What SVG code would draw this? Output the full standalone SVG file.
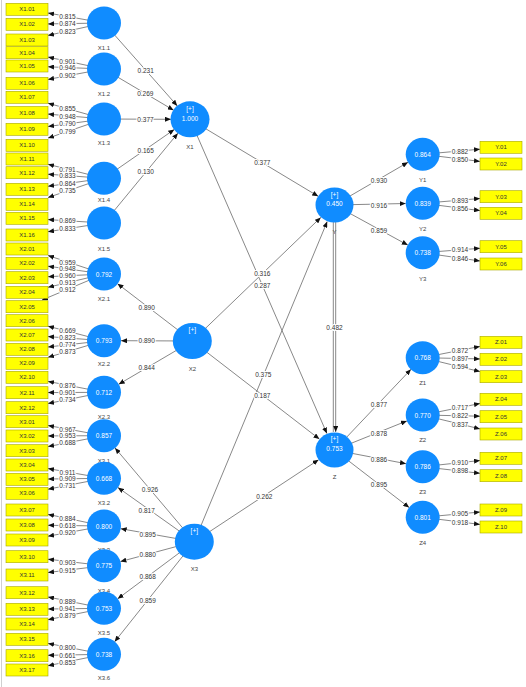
<svg xmlns="http://www.w3.org/2000/svg" width="526" height="687" viewBox="0 0 526 687">
<defs>
<marker id="a" markerUnits="userSpaceOnUse" markerWidth="6" markerHeight="5" refX="6" refY="2.5" orient="auto"><path d="M0,0 L6,2.5 L0,5 z" fill="#111"/></marker>
<style>
.c{fill:#108cff}
.b{fill:#ffff00;stroke:#a8a800;stroke-width:0.6}
.l{stroke:#7a7a7a;stroke-width:0.9;fill:none;marker-end:url(#a)}
.p{stroke:#7a7a7a;stroke-width:0.9;fill:none}
text{font-family:"Liberation Sans",Arial,sans-serif;text-anchor:middle;dominant-baseline:central}
.t{font-size:6.5px;fill:#333;stroke:#fff;stroke-width:2.2px;paint-order:stroke}
.n{font-size:6px;fill:#444}
.v{font-size:6.5px;fill:#fff}
.bt{font-size:6px;fill:#333}
</style>
</defs>
<rect width="526" height="687" fill="#fff"/>
<line x1="1.5" y1="0" x2="1.5" y2="687" stroke="#d0d0d0" stroke-width="1"/>

<g id="connectors">
<!-- left loadings -->
<line class="l" x1="104" y1="23" x2="48" y2="13"/>
<line class="l" x1="104" y1="23" x2="48" y2="23.9"/>
<line class="l" x1="104" y1="23" x2="48" y2="35.4"/>
<line class="l" x1="104" y1="69" x2="48" y2="57.1"/>
<line class="l" x1="104" y1="69" x2="48" y2="66.8"/>
<line class="l" x1="104" y1="69" x2="48" y2="79.4"/>
<line class="l" x1="104" y1="119" x2="48" y2="103.2"/>
<line class="l" x1="104" y1="119" x2="48" y2="114.1"/>
<line class="l" x1="104" y1="119" x2="48" y2="126.5"/>
<line class="l" x1="104" y1="119" x2="48" y2="138.1"/>
<line class="l" x1="104" y1="178.3" x2="48" y2="164.3"/>
<line class="l" x1="104" y1="178.3" x2="48" y2="174.2"/>
<line class="l" x1="104" y1="178.3" x2="48" y2="186.3"/>
<line class="l" x1="104" y1="178.3" x2="48" y2="197.5"/>
<line class="l" x1="104" y1="223" x2="48" y2="219.6"/>
<line class="l" x1="104" y1="223" x2="48" y2="231.7"/>
<line class="l" x1="104" y1="274" x2="48" y2="255.5"/>
<line class="l" x1="104" y1="274" x2="48" y2="266.2"/>
<line class="l" x1="104" y1="274" x2="48" y2="276.7"/>
<line class="l" x1="104" y1="274" x2="48" y2="287.3"/>
<line class="l" x1="104" y1="274" x2="42" y2="300"/>
<line class="l" x1="104" y1="340.7" x2="48" y2="326.2"/>
<line class="l" x1="104" y1="340.7" x2="48" y2="336.6"/>
<line class="l" x1="104" y1="340.7" x2="48" y2="347"/>
<line class="l" x1="104" y1="340.7" x2="48" y2="357.3"/>
<line class="l" x1="104" y1="392.3" x2="48" y2="381.4"/>
<line class="l" x1="104" y1="392.3" x2="48" y2="392.6"/>
<line class="l" x1="104" y1="392.3" x2="48" y2="403.5"/>
<line class="l" x1="104" y1="435.7" x2="48" y2="425.5"/>
<line class="l" x1="104" y1="435.7" x2="48" y2="435.9"/>
<line class="l" x1="104" y1="435.7" x2="48" y2="446.6"/>
<line class="l" x1="104" y1="478.3" x2="48" y2="468.6"/>
<line class="l" x1="104" y1="478.3" x2="48" y2="479"/>
<line class="l" x1="104" y1="478.3" x2="48" y2="489.2"/>
<line class="l" x1="104" y1="526" x2="48" y2="514.4"/>
<line class="l" x1="104" y1="526" x2="48" y2="525.3"/>
<line class="l" x1="104" y1="526" x2="48" y2="536.2"/>
<line class="l" x1="104" y1="565.7" x2="48" y2="559.2"/>
<line class="l" x1="104" y1="565.7" x2="48" y2="572.5"/>
<line class="l" x1="104" y1="608.3" x2="48" y2="597"/>
<line class="l" x1="104" y1="608.3" x2="48" y2="609"/>
<line class="l" x1="104" y1="608.3" x2="48" y2="619.7"/>
<line class="l" x1="104" y1="654.3" x2="48" y2="643.4"/>
<line class="l" x1="104" y1="654.3" x2="48" y2="655.3"/>
<line class="l" x1="104" y1="654.3" x2="48" y2="665.7"/>
<!-- right loadings -->
<line class="l" x1="422.7" y1="154.3" x2="480" y2="149.2"/>
<line class="l" x1="422.7" y1="154.3" x2="480" y2="161.4"/>
<line class="l" x1="422.7" y1="203.3" x2="480" y2="198.5"/>
<line class="l" x1="422.7" y1="203.3" x2="480" y2="210.6"/>
<line class="l" x1="422.7" y1="252.7" x2="480" y2="248.3"/>
<line class="l" x1="422.7" y1="252.7" x2="480" y2="261"/>
<line class="l" x1="422.7" y1="357.7" x2="480" y2="346.4"/>
<line class="l" x1="422.7" y1="357.7" x2="480" y2="358.9"/>
<line class="l" x1="422.7" y1="357.7" x2="480" y2="371.6"/>
<line class="l" x1="422.7" y1="415" x2="480" y2="403.5"/>
<line class="l" x1="422.7" y1="415" x2="480" y2="416.2"/>
<line class="l" x1="422.7" y1="415" x2="480" y2="428.9"/>
<line class="l" x1="422.7" y1="466.7" x2="480" y2="460.5"/>
<line class="l" x1="422.7" y1="466.7" x2="480" y2="473.3"/>
<line class="l" x1="422.7" y1="517.3" x2="480" y2="512"/>
<line class="l" x1="422.7" y1="517.3" x2="480" y2="524.4"/>
<!-- first-order to X1 -->
<line class="l" x1="104" y1="23" x2="177.3" y2="105.9"/>
<line class="l" x1="104" y1="69" x2="173.6" y2="110.2"/>
<line class="l" x1="104" y1="119" x2="171" y2="119.3"/>
<line class="l" x1="104" y1="178.3" x2="174.3" y2="129.5"/>
<line class="l" x1="104" y1="223" x2="177.9" y2="133.2"/>
<!-- X2 to first-order -->
<line class="l" x1="192.3" y1="341" x2="117.5" y2="283.7"/>
<line class="l" x1="192.3" y1="341" x2="121" y2="340.7"/>
<line class="l" x1="192.3" y1="341" x2="118.7" y2="384.3"/>
<!-- X3 to first-order -->
<line class="l" x1="194.3" y1="541.7" x2="115" y2="447.9"/>
<line class="l" x1="194.3" y1="541.7" x2="117.9" y2="487.5"/>
<line class="l" x1="194.3" y1="541.7" x2="120.7" y2="528.7"/>
<line class="l" x1="194.3" y1="541.7" x2="120.4" y2="561.6"/>
<line class="l" x1="194.3" y1="541.7" x2="117.7" y2="598.8"/>
<line class="l" x1="194.3" y1="541.7" x2="114.6" y2="641.8"/>
<!-- structural -->
<line class="l" x1="190" y1="119.3" x2="318.2" y2="196.3"/>
<line class="l" x1="190" y1="119.3" x2="326.9" y2="433.5"/>
<line class="l" x1="192.3" y1="341" x2="320.8" y2="217.4"/>
<line class="l" x1="192.3" y1="341" x2="319.4" y2="439.1"/>
<line class="l" x1="194.3" y1="541.7" x2="327.2" y2="221.6"/>
<line class="l" x1="194.3" y1="541.7" x2="318.6" y2="459.8"/>
<line class="p" x1="333.3" y1="205" x2="333.3" y2="432"/>
<line class="l" x1="335.7" y1="205" x2="335.7" y2="432"/>
<!-- Y and Z to first-order -->
<line class="l" x1="334.5" y1="205" x2="408" y2="162.3"/>
<line class="l" x1="334.5" y1="205" x2="405.7" y2="203.5"/>
<line class="l" x1="334.5" y1="205" x2="407.8" y2="245.1"/>
<line class="l" x1="334.5" y1="450" x2="411" y2="369.3"/>
<line class="l" x1="334.5" y1="450" x2="406.9" y2="420.9"/>
<line class="l" x1="334.5" y1="450" x2="406" y2="463.7"/>
<line class="l" x1="334.5" y1="450" x2="409.2" y2="507.6"/>
</g>

<g id="connector-labels">
<text class="t" x="67.5" y="16.5">0.815</text>
<text class="t" x="67.5" y="23.8">0.874</text>
<text class="t" x="67.5" y="31.1">0.823</text>
<text class="t" x="67.5" y="61.3">0.901</text>
<text class="t" x="67.5" y="67.9">0.946</text>
<text class="t" x="67.5" y="75.8">0.902</text>
<text class="t" x="67.5" y="108.7">0.855</text>
<text class="t" x="67.5" y="116.3">0.948</text>
<text class="t" x="67.5" y="123.9">0.790</text>
<text class="t" x="67.5" y="131.5">0.799</text>
<text class="t" x="67.5" y="169.2">0.791</text>
<text class="t" x="67.5" y="175.8">0.833</text>
<text class="t" x="67.5" y="183.2">0.864</text>
<text class="t" x="67.5" y="190.4">0.735</text>
<text class="t" x="67.5" y="220.3">0.869</text>
<text class="t" x="67.5" y="228.4">0.833</text>
<text class="t" x="67.5" y="262.2">0.959</text>
<text class="t" x="67.5" y="268.9">0.948</text>
<text class="t" x="67.5" y="275.8">0.960</text>
<text class="t" x="67.5" y="282.7">0.913</text>
<text class="t" x="67.5" y="289.6">0.912</text>
<text class="t" x="67.5" y="330.8">0.669</text>
<text class="t" x="67.5" y="337.8">0.823</text>
<text class="t" x="67.5" y="344.8">0.774</text>
<text class="t" x="67.5" y="351.6">0.873</text>
<text class="t" x="67.5" y="385">0.876</text>
<text class="t" x="67.5" y="392.5">0.901</text>
<text class="t" x="67.5" y="399.8">0.734</text>
<text class="t" x="67.5" y="429.1">0.967</text>
<text class="t" x="67.5" y="435.9">0.953</text>
<text class="t" x="67.5" y="442.8">0.688</text>
<text class="t" x="67.5" y="472">0.911</text>
<text class="t" x="67.5" y="478.7">0.909</text>
<text class="t" x="67.5" y="485.5">0.731</text>
<text class="t" x="67.5" y="518.6">0.884</text>
<text class="t" x="67.5" y="525.6">0.618</text>
<text class="t" x="67.5" y="532.8">0.920</text>
<text class="t" x="67.5" y="562">0.903</text>
<text class="t" x="67.5" y="570">0.915</text>
<text class="t" x="67.5" y="601.2">0.889</text>
<text class="t" x="67.5" y="608.8">0.941</text>
<text class="t" x="67.5" y="615.8">0.879</text>
<text class="t" x="67.5" y="647.4">0.800</text>
<text class="t" x="67.5" y="655">0.661</text>
<text class="t" x="67.5" y="662">0.853</text>

<text class="t" x="460" y="151">0.882</text>
<text class="t" x="460" y="159">0.850</text>
<text class="t" x="460" y="200.2">0.893</text>
<text class="t" x="460" y="208.6">0.856</text>
<text class="t" x="460" y="249.8">0.914</text>
<text class="t" x="460" y="258.1">0.846</text>
<text class="t" x="460" y="350.6">0.872</text>
<text class="t" x="460" y="358.6">0.897</text>
<text class="t" x="460" y="366.7">0.594</text>
<text class="t" x="460" y="407.6">0.717</text>
<text class="t" x="460" y="415.8">0.822</text>
<text class="t" x="460" y="424.2">0.837</text>
<text class="t" x="460" y="462.7">0.910</text>
<text class="t" x="460" y="470.9">0.898</text>
<text class="t" x="460" y="513.6">0.905</text>
<text class="t" x="460" y="522">0.918</text>

<text class="t" x="145.7" y="70.5">0.231</text>
<text class="t" x="145.3" y="93.8">0.269</text>
<text class="t" x="145.5" y="119.7">0.377</text>
<text class="t" x="145.7" y="150.5">0.165</text>
<text class="t" x="145.7" y="171.5">0.130</text>
<text class="t" x="146.7" y="307">0.890</text>
<text class="t" x="146.7" y="340.9">0.890</text>
<text class="t" x="146.7" y="367.7">0.844</text>
<text class="t" x="150" y="489.3">0.926</text>
<text class="t" x="146.7" y="510">0.817</text>
<text class="t" x="147.7" y="534.3">0.895</text>
<text class="t" x="147.7" y="554.3">0.880</text>
<text class="t" x="147.7" y="576">0.868</text>
<text class="t" x="147.7" y="600">0.859</text>

<text class="t" x="262.3" y="162.3">0.377</text>
<text class="t" x="262.3" y="285.7">0.287</text>
<text class="t" x="262.3" y="273.3">0.316</text>
<text class="t" x="262.3" y="395.7">0.187</text>
<text class="t" x="263.3" y="374">0.375</text>
<text class="t" x="264.3" y="496.7">0.262</text>
<text class="t" x="334.5" y="327.7">0.482</text>
<text class="t" x="379" y="180">0.930</text>
<text class="t" x="379" y="205">0.916</text>
<text class="t" x="379" y="230.7">0.859</text>
<text class="t" x="379" y="404">0.877</text>
<text class="t" x="379" y="433.3">0.878</text>
<text class="t" x="379" y="459">0.886</text>
<text class="t" x="379" y="484.3">0.895</text>
</g>

<!-- indicator boxes left -->
<g id="X1.01"><rect class="b" x="6" y="3.3" width="42" height="12"/><text class="bt" x="27" y="9.3">X1.01</text></g>
<g id="X1.02"><rect class="b" x="6" y="18.3" width="42" height="12"/><text class="bt" x="27" y="24.3">X1.02</text></g>
<g id="X1.03"><rect class="b" x="6" y="34" width="42" height="12"/><text class="bt" x="27" y="40">X1.03</text></g>
<g id="X1.04"><rect class="b" x="6" y="46.7" width="42" height="12"/><text class="bt" x="27" y="52.7">X1.04</text></g>
<g id="X1.05"><rect class="b" x="6" y="60" width="42" height="12"/><text class="bt" x="27" y="66">X1.05</text></g>
<g id="X1.06"><rect class="b" x="6" y="77.3" width="42" height="12"/><text class="bt" x="27" y="83.3">X1.06</text></g>
<g id="X1.07"><rect class="b" x="6" y="91.3" width="42" height="12"/><text class="bt" x="27" y="97.3">X1.07</text></g>
<g id="X1.08"><rect class="b" x="6" y="106.5" width="42" height="12"/><text class="bt" x="27" y="112.5">X1.08</text></g>
<g id="X1.09"><rect class="b" x="6" y="123.3" width="42" height="12"/><text class="bt" x="27" y="129.3">X1.09</text></g>
<g id="X1.10"><rect class="b" x="6" y="139.3" width="42" height="12"/><text class="bt" x="27" y="145.3">X1.10</text></g>
<g id="X1.11"><rect class="b" x="6" y="153" width="42" height="12"/><text class="bt" x="27" y="159">X1.11</text></g>
<g id="X1.12"><rect class="b" x="6" y="166.7" width="42" height="12"/><text class="bt" x="27" y="172.7">X1.12</text></g>
<g id="X1.13"><rect class="b" x="6" y="183.3" width="42" height="12"/><text class="bt" x="27" y="189.3">X1.13</text></g>
<g id="X1.14"><rect class="b" x="6" y="198.3" width="42" height="12"/><text class="bt" x="27" y="204.3">X1.14</text></g>
<g id="X1.15"><rect class="b" x="6" y="212.3" width="42" height="12"/><text class="bt" x="27" y="218.3">X1.15</text></g>
<g id="X1.16"><rect class="b" x="6" y="229" width="42" height="12"/><text class="bt" x="27" y="235">X1.16</text></g>
<g id="X2.01"><rect class="b" x="6" y="243" width="42" height="12"/><text class="bt" x="27" y="249">X2.01</text></g>
<g id="X2.02"><rect class="b" x="6" y="257.3" width="42" height="12"/><text class="bt" x="27" y="263.3">X2.02</text></g>
<g id="X2.03"><rect class="b" x="6" y="271.7" width="42" height="12"/><text class="bt" x="27" y="277.7">X2.03</text></g>
<g id="X2.04"><rect class="b" x="6" y="286.3" width="42" height="12"/><text class="bt" x="27" y="292.3">X2.04</text></g>
<g id="X2.05"><rect class="b" x="6" y="300.7" width="42" height="12"/><text class="bt" x="27" y="306.7">X2.05</text></g>
<g id="X2.06"><rect class="b" x="6" y="314.7" width="42" height="12"/><text class="bt" x="27" y="320.7">X2.06</text></g>
<g id="X2.07"><rect class="b" x="6" y="329" width="42" height="12"/><text class="bt" x="27" y="335">X2.07</text></g>
<g id="X2.08"><rect class="b" x="6" y="343.3" width="42" height="12"/><text class="bt" x="27" y="349.3">X2.08</text></g>
<g id="X2.09"><rect class="b" x="6" y="357.3" width="42" height="12"/><text class="bt" x="27" y="363.3">X2.09</text></g>
<g id="X2.10"><rect class="b" x="6" y="371.3" width="42" height="12"/><text class="bt" x="27" y="377.3">X2.10</text></g>
<g id="X2.11"><rect class="b" x="6" y="386.7" width="42" height="12"/><text class="bt" x="27" y="392.7">X2.11</text></g>
<g id="X2.12"><rect class="b" x="6" y="401.7" width="42" height="12"/><text class="bt" x="27" y="407.7">X2.12</text></g>
<g id="X3.01"><rect class="b" x="6" y="415.7" width="42" height="12"/><text class="bt" x="27" y="421.7">X3.01</text></g>
<g id="X3.02"><rect class="b" x="6" y="430" width="42" height="12"/><text class="bt" x="27" y="436">X3.02</text></g>
<g id="X3.03"><rect class="b" x="6" y="444.7" width="42" height="12"/><text class="bt" x="27" y="450.7">X3.03</text></g>
<g id="X3.04"><rect class="b" x="6" y="459" width="42" height="12"/><text class="bt" x="27" y="465">X3.04</text></g>
<g id="X3.05"><rect class="b" x="6" y="473.3" width="42" height="12"/><text class="bt" x="27" y="479.3">X3.05</text></g>
<g id="X3.06"><rect class="b" x="6" y="487.3" width="42" height="12"/><text class="bt" x="27" y="493.3">X3.06</text></g>
<g id="X3.07"><rect class="b" x="6" y="504" width="42" height="12"/><text class="bt" x="27" y="510">X3.07</text></g>
<g id="X3.08"><rect class="b" x="6" y="519" width="42" height="12"/><text class="bt" x="27" y="525">X3.08</text></g>
<g id="X3.09"><rect class="b" x="6" y="534" width="42" height="12"/><text class="bt" x="27" y="540">X3.09</text></g>
<g id="X3.10"><rect class="b" x="6" y="550.7" width="42" height="12"/><text class="bt" x="27" y="556.7">X3.10</text></g>
<g id="X3.11"><rect class="b" x="6" y="569" width="42" height="12"/><text class="bt" x="27" y="575">X3.11</text></g>
<g id="X3.12"><rect class="b" x="6" y="586.7" width="42" height="12"/><text class="bt" x="27" y="592.7">X3.12</text></g>
<g id="X3.13"><rect class="b" x="6" y="603.3" width="42" height="12"/><text class="bt" x="27" y="609.3">X3.13</text></g>
<g id="X3.14"><rect class="b" x="6" y="618" width="42" height="12"/><text class="bt" x="27" y="624">X3.14</text></g>
<g id="X3.15"><rect class="b" x="6" y="633.3" width="42" height="12"/><text class="bt" x="27" y="639.3">X3.15</text></g>
<g id="X3.16"><rect class="b" x="6" y="649.7" width="42" height="12"/><text class="bt" x="27" y="655.7">X3.16</text></g>
<g id="X3.17"><rect class="b" x="6" y="664" width="42" height="12"/><text class="bt" x="27" y="670">X3.17</text></g>

<!-- indicator boxes right -->
<g id="Y.01"><rect class="b" x="480" y="141.3" width="42" height="12"/><text class="bt" x="501" y="147.3">Y.01</text></g>
<g id="Y.02"><rect class="b" x="480" y="158" width="42" height="12"/><text class="bt" x="501" y="164">Y.02</text></g>
<g id="Y.03"><rect class="b" x="480" y="190.7" width="42" height="12"/><text class="bt" x="501" y="196.7">Y.03</text></g>
<g id="Y.04"><rect class="b" x="480" y="207.3" width="42" height="12"/><text class="bt" x="501" y="213.3">Y.04</text></g>
<g id="Y.05"><rect class="b" x="480" y="240.7" width="42" height="12"/><text class="bt" x="501" y="246.7">Y.05</text></g>
<g id="Y.06"><rect class="b" x="480" y="258" width="42" height="12"/><text class="bt" x="501" y="264">Y.06</text></g>
<g id="Z.01"><rect class="b" x="480" y="336.3" width="42" height="12"/><text class="bt" x="501" y="342.3">Z.01</text></g>
<g id="Z.02"><rect class="b" x="480" y="353.3" width="42" height="12"/><text class="bt" x="501" y="359.3">Z.02</text></g>
<g id="Z.03"><rect class="b" x="480" y="370.7" width="42" height="12"/><text class="bt" x="501" y="376.7">Z.03</text></g>
<g id="Z.04"><rect class="b" x="480" y="393.3" width="42" height="12"/><text class="bt" x="501" y="399.3">Z.04</text></g>
<g id="Z.05"><rect class="b" x="480" y="410.7" width="42" height="12"/><text class="bt" x="501" y="416.7">Z.05</text></g>
<g id="Z.06"><rect class="b" x="480" y="428" width="42" height="12"/><text class="bt" x="501" y="434">Z.06</text></g>
<g id="Z.07"><rect class="b" x="480" y="452.3" width="42" height="12"/><text class="bt" x="501" y="458.3">Z.07</text></g>
<g id="Z.08"><rect class="b" x="480" y="469.7" width="42" height="12"/><text class="bt" x="501" y="475.7">Z.08</text></g>
<g id="Z.09"><rect class="b" x="480" y="504" width="42" height="12"/><text class="bt" x="501" y="510">Z.09</text></g>
<g id="Z.10"><rect class="b" x="480" y="521" width="42" height="12"/><text class="bt" x="501" y="527">Z.10</text></g>

<!-- first-order constructs -->
<g id="X1.1"><ellipse class="c" cx="104" cy="23" rx="17" ry="16.5"/><text class="n" x="104" y="48.3">X1.1</text></g>
<g id="X1.2"><ellipse class="c" cx="104" cy="69" rx="17" ry="16.5"/><text class="n" x="104" y="94.3">X1.2</text></g>
<g id="X1.3"><ellipse class="c" cx="104" cy="119" rx="17" ry="16.5"/><text class="n" x="104" y="143.3">X1.3</text></g>
<g id="X1.4"><ellipse class="c" cx="104" cy="178.3" rx="17" ry="16.5"/><text class="n" x="104" y="200">X1.4</text></g>
<g id="X1.5"><ellipse class="c" cx="104" cy="223" rx="17" ry="16.5"/><text class="n" x="104" y="249">X1.5</text></g>
<g id="X2.1"><ellipse class="c" cx="104" cy="274" rx="17" ry="16.5"/><text class="v" x="104" y="274">0.792</text><text class="n" x="104" y="299">X2.1</text></g>
<g id="X2.2"><ellipse class="c" cx="104" cy="340.7" rx="17" ry="16.5"/><text class="v" x="104" y="340.7">0.793</text><text class="n" x="104" y="364">X2.2</text></g>
<g id="X2.3"><ellipse class="c" cx="104" cy="392.3" rx="17" ry="16.5"/><text class="v" x="104" y="392.3">0.712</text><text class="n" x="104" y="417.3">X2.3</text></g>
<g id="X3.1"><ellipse class="c" cx="104" cy="435.7" rx="17" ry="16.5"/><text class="v" x="104" y="435.7">0.857</text><text class="n" x="104" y="460.7">X3.1</text></g>
<g id="X3.2"><ellipse class="c" cx="104" cy="478.3" rx="17" ry="16.5"/><text class="v" x="104" y="478.3">0.668</text><text class="n" x="104" y="503.3">X3.2</text></g>
<g id="X3.3"><text class="n" x="104" y="550">X3.3</text><ellipse class="c" cx="104" cy="526" rx="17" ry="16.5"/><text class="v" x="104" y="526">0.800</text></g>
<g id="X3.4"><ellipse class="c" cx="104" cy="565.7" rx="17" ry="16.5"/><text class="v" x="104" y="565.7">0.775</text><text class="n" x="104" y="590.7">X3.4</text></g>
<g id="X3.5"><ellipse class="c" cx="104" cy="608.3" rx="17" ry="16.5"/><text class="v" x="104" y="608.3">0.753</text><text class="n" x="104" y="633.3">X3.5</text></g>
<g id="X3.6"><ellipse class="c" cx="104" cy="654.3" rx="17" ry="16.5"/><text class="v" x="104" y="654.3">0.738</text><text class="n" x="104" y="678.3">X3.6</text></g>

<g id="Y1"><ellipse class="c" cx="422.7" cy="154.3" rx="17" ry="16.5"/><text class="v" x="422.7" y="154.3">0.864</text><text class="n" x="422.7" y="180">Y1</text></g>
<g id="Y2"><ellipse class="c" cx="422.7" cy="203.3" rx="17" ry="16.5"/><text class="v" x="422.7" y="203.3">0.839</text><text class="n" x="422.7" y="229.3">Y2</text></g>
<g id="Y3"><ellipse class="c" cx="422.7" cy="252.7" rx="17" ry="16.5"/><text class="v" x="422.7" y="252.7">0.738</text><text class="n" x="422.7" y="278.7">Y3</text></g>
<g id="Z1"><ellipse class="c" cx="422.7" cy="357.7" rx="17" ry="16.5"/><text class="v" x="422.7" y="357.7">0.768</text><text class="n" x="422.7" y="383.3">Z1</text></g>
<g id="Z2"><ellipse class="c" cx="422.7" cy="415" rx="17" ry="16.5"/><text class="v" x="422.7" y="415">0.770</text><text class="n" x="422.7" y="440">Z2</text></g>
<g id="Z3"><ellipse class="c" cx="422.7" cy="466.7" rx="17" ry="16.5"/><text class="v" x="422.7" y="466.7">0.786</text><text class="n" x="422.7" y="491.7">Z3</text></g>
<g id="Z4"><ellipse class="c" cx="422.7" cy="517.3" rx="17" ry="16.5"/><text class="v" x="422.7" y="517.3">0.801</text><text class="n" x="422.7" y="543">Z4</text></g>

<!-- second-order constructs -->
<g id="X1"><ellipse class="c" cx="190" cy="119.3" rx="19.5" ry="18"/><text class="v" x="190" y="108.5">[+]</text><text class="v" x="190" y="118.5">1.000</text><text class="n" x="190" y="147">X1</text></g>
<g id="X2"><ellipse class="c" cx="192.3" cy="341" rx="19.5" ry="18"/><text class="v" x="192.3" y="329.5">[+]</text><text class="n" x="192.3" y="369">X2</text></g>
<g id="X3"><ellipse class="c" cx="194.3" cy="541.7" rx="19.5" ry="18"/><text class="v" x="194.3" y="530.3">[+]</text><text class="n" x="194.3" y="569">X3</text></g>
<g id="Y"><ellipse class="c" cx="334.5" cy="205" rx="19" ry="17.5"/><text class="v" x="334.5" y="194.5">[+]</text><text class="v" x="334.5" y="203.8">0.450</text><text class="n" x="334.5" y="231.5">Y</text></g>
<g id="Z"><ellipse class="c" cx="334.5" cy="450" rx="19" ry="17.5"/><text class="v" x="334.5" y="438.8">[+]</text><text class="v" x="334.5" y="448.5">0.753</text><text class="n" x="334.5" y="477.3">Z</text></g>
</svg>
